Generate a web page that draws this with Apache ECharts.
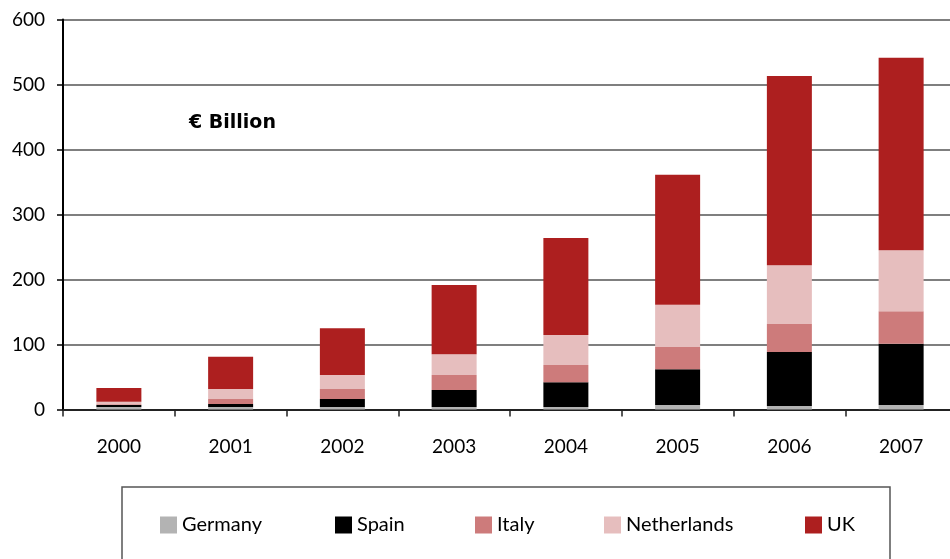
<!DOCTYPE html>
<html>
<head>
<meta charset="utf-8">
<script src="https://cdn.jsdelivr.net/npm/echarts@6/dist/echarts.min.js"></script>
<style>html,body{margin:0;padding:0;background:#fff;}#chart{width:950px;height:559px;}</style>
</head>
<body>
<div id="chart"></div>
<script>
var years = ['2000','2001','2002','2003','2004','2005','2006','2007'];
var germany = [4, 4, 4, 4, 4, 7, 5.5, 7];
var spain = [3, 4.5, 12, 26, 38, 55, 83, 94];
var italy = [1, 7.5, 15.5, 23, 26.5, 34, 43, 50];
var netherlands = [4, 15.5, 21.5, 32, 46, 65, 90.5, 94];
var uk = [21, 49.5, 72, 106.5, 149.5, 200, 291, 296];
var yTicks = [0, 100, 200, 300, 400, 500, 600];

var names = ['Germany','Spain','Italy','Netherlands','UK'];
var colors = ['#b3b3b3','#000000','#cd7b7b','#e6bebe','#ad1f1f'];
var values = [germany, spain, italy, netherlands, uk];
var legendLeft = [160, 335, 475, 604, 805];
var FONT = 'Lato';

var chart = echarts.init(document.getElementById('chart'), null, {renderer:'canvas'});
var series = names.map(function(n, i){
  return {
    name: n, type: 'bar', stack: 'total', barWidth: 45,
    itemStyle: {color: colors[i]},
    data: values[i]
  };
});
var legends = names.map(function(n, i){
  return {
    data: [n], left: legendLeft[i], top: 515, itemWidth: 17, itemHeight: 17,
    itemGap: 5, padding: 0, selectedMode: false,
    icon: 'rect',
    textStyle: {fontFamily: FONT, fontSize: 20, color: '#000', padding: [0,0,0,0]}
  };
});
chart.setOption({
  animation: false,
  backgroundColor: '#fff',
  grid: {left: 63, top: 19.5, height: 390, width: 894, containLabel: false, outerBoundsMode: 'none'},
  legend: legends,
  xAxis: {
    type: 'category', data: years,
    axisLine: {lineStyle: {color: '#222', width: 2}},
    axisTick: {show: true, length: 7, lineStyle: {color: '#222', width: 1.5}},
    axisLabel: {fontFamily: FONT, fontSize: 19, color: '#000', margin: 28}
  },
  yAxis: {
    type: 'value', min: yTicks[0], max: yTicks[yTicks.length-1], interval: 100,
    axisLine: {show: true, lineStyle: {color: '#000', width: 2}},
    axisTick: {show: true, length: 6, lineStyle: {color: '#000', width: 1.5}},
    axisLabel: {fontFamily: FONT, fontSize: 19, color: '#000', margin: 18},
    splitLine: {lineStyle: {color: '#555', width: 1.5}}
  },
  graphic: [
    {type: 'text', left: 189, top: 114, style: {text: '€ Billion', fontFamily: 'DejaVu Sans', fontWeight: 'bold', fontSize: 19, fill: '#000'}},
    {type: 'rect', shape: {x: 122, y: 487, width: 768, height: 90}, style: {fill: 'none', stroke: '#555', lineWidth: 1.5}, z: -1}
  ],
  series: series
});
</script>
</body>
</html>
